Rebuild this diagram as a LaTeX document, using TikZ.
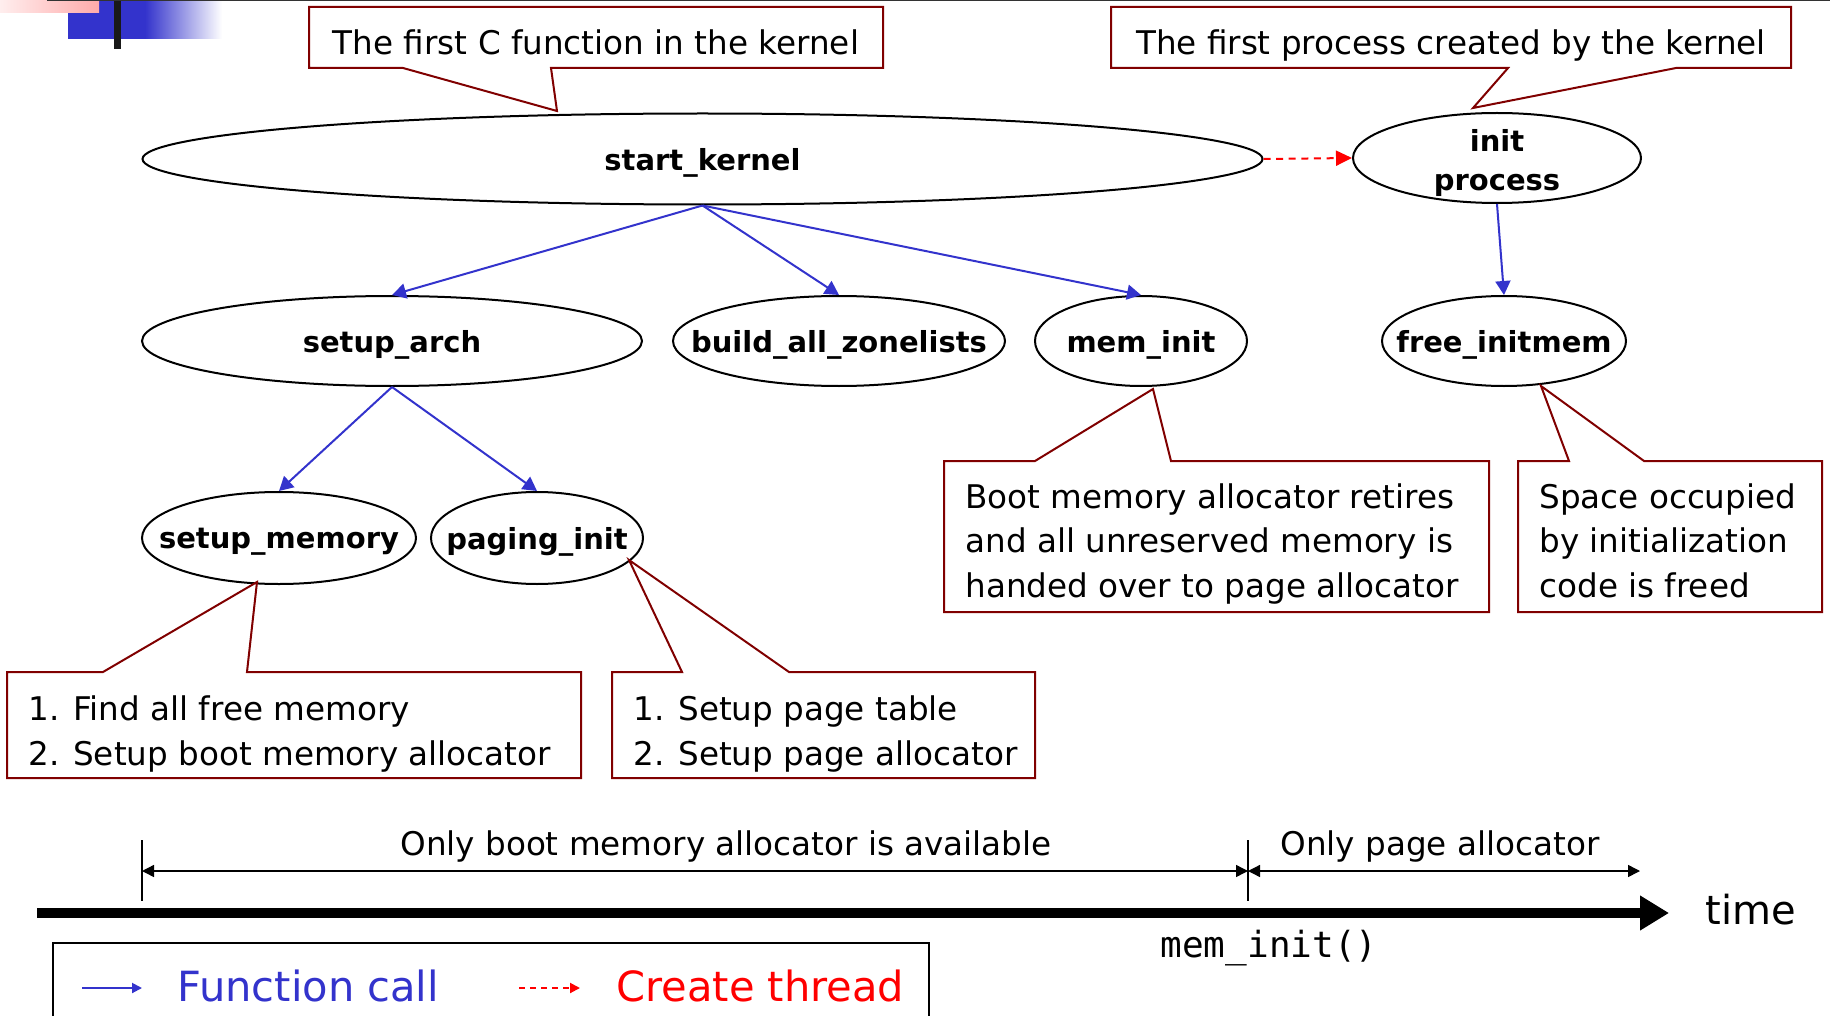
\documentclass[tikz,border=0pt]{standalone}
\usepackage{fontspec}
\setmainfont{DejaVu Sans}
\newfontfamily\codefont{DejaVu Sans Mono}
\usetikzlibrary{arrows.meta,shapes.geometric}
\definecolor{callblue}{RGB}{51,51,204}
\definecolor{notered}{RGB}{128,0,0}
\definecolor{threadred}{RGB}{255,0,0}
\definecolor{barpink}{RGB}{255,170,170}
% label text that does not widen the ellipse, set a little below centre
\newcommand\zerowidth[1]{\makebox[0pt]{\raisebox{-1.8pt}[\height][\depth]{#1}}}
% two-line label that takes no room at all
\newcommand\zerobox[1]{\makebox[0pt]{\raisebox{-6.3pt}[0pt][0pt]{#1}}}

\begin{document}
\begin{tikzpicture}[x=0.5pt,y=-0.5pt,
  fn/.style={ellipse, draw=black, line width=1pt, fill=white, inner sep=0pt,
    font=\bfseries\fontsize{14.5}{19.5}\selectfont},
  call/.style={draw=callblue, line width=1pt, -{Triangle[length=7pt,width=7.5pt]}},
  spawn/.style={draw=threadred, line width=1pt, dash pattern=on 3.5pt off 2.8pt,
    -{Triangle[length=8pt,width=7.5pt]}},
  note/.style={draw=notered, line width=1pt, fill=white, line join=miter},
  notetext/.style={inner sep=0pt, text depth=0pt, font=\fontsize{16.3}{22.3}\selectfont, align=left},
  plain/.style={inner sep=0pt, text depth=0pt, font=\fontsize{16.3}{20}\selectfont},
  dimline/.style={line width=0.7pt, {Triangle[length=6pt,width=6pt]}-{Triangle[length=6pt,width=6pt]}},
]
\useasboundingbox (0,0) rectangle (1830,1016);

% corner ornament
\fill[callblue] (68,0) rectangle (146,39);
\shade[left color=callblue, right color=white] (145,0) rectangle (222,39);
\shade[left color=barpink!20, right color=barpink] (0,0) rectangle (99,13);
\fill[black!90] (114,0) rectangle (121,49);
\draw[black!80, line width=0.75pt] (47,0.75) -- (1830,0.75);

% call graph
\node[fn, minimum width=560pt, minimum height=45.5pt] (sk) at (702.5,159) {\zerowidth{start\_kernel}};
\node[fn, minimum width=144pt, minimum height=45pt] (ip) at (1497,158) {\zerobox{\begin{tabular}{@{}c@{}}init\\process\end{tabular}}};
\node[fn, minimum width=250pt, minimum height=45pt] (sa) at (392,341) {\zerowidth{setup\_arch}};
\node[fn, minimum width=166pt, minimum height=45pt] (bz) at (839,341) {\zerowidth{build\_all\_zonelists}};
\node[fn, minimum width=106pt, minimum height=45pt] (mi) at (1141,341) {\zerowidth{mem\_init}};
\node[fn, minimum width=122pt, minimum height=45pt] (fi) at (1504,341) {\zerowidth{free\_initmem}};
\node[fn, minimum width=137pt, minimum height=46pt] (sm) at (279,538) {\zerowidth{setup\_memory}};
\node[fn, minimum width=106pt, minimum height=46pt] (pi) at (537,538) {\zerowidth{paging\_init}};

\draw[call] (sk.south) -- (sa.north);
\draw[call] (sk.south) -- (bz.north);
\draw[call] (sk.south) -- (mi.north);
\draw[call] (sa.south) -- (sm.north);
\draw[call] (sa.south) -- (pi.north);
\draw[call] (ip.south) -- (fi.north);
\draw[spawn] (sk.east) -- (ip.west);

% callouts
\draw[note] (309,7) -- (883,7) -- (883,68) -- (551,68) -- (557,111) -- (403,68) -- (309,68) -- cycle;
\node[plain] (c1) at (596,42) {The first C function in the kernel};

\draw[note] (1111,7) -- (1791,7) -- (1791,68) -- (1676,68) -- (1473,108) -- (1508,68) -- (1111,68) -- cycle;
\node[plain] (c2) at (1451,42) {The first process created by the kernel};

\draw[note] (7,672) -- (103,672) -- (257,582) -- (247,672) -- (581,672) -- (581,778) -- (7,778) -- cycle;
\node[notetext, anchor=west] (c3) at (28,730.5) {1. Find all free memory\\2. Setup boot memory allocator};

\draw[note] (612,672) -- (682,672) -- (629,560) -- (789,672) -- (1035,672) -- (1035,778) -- (612,778) -- cycle;
\node[notetext, anchor=west] (c4) at (633,730.5) {1. Setup page table\\2. Setup page allocator};

\draw[note] (944,461) -- (1035,461) -- (1153,389) -- (1171,461) -- (1489,461) -- (1489,612) -- (944,612) -- cycle;
\node[notetext, anchor=west] (c5) at (965,540.5) {Boot memory allocator retires\\and all unreserved memory is\\handed over to page allocator};

\draw[note] (1518,461) -- (1569,461) -- (1541,386) -- (1644,461) -- (1822,461) -- (1822,612) -- (1518,612) -- cycle;
\node[notetext, anchor=west] (c6) at (1539,540.5) {Space occupied\\by initialization\\code is freed};

% time line
\coordinate (tstart) at (37,913);
\coordinate (tend) at (1669,913);
\draw[line width=5pt, -{Triangle[length=14.5pt,width=16.5pt]}] (tstart) -- (tend);
\node[inner sep=0pt, font=\fontsize{20}{24}\selectfont] (tm) at (1751,910) {time};

\coordinate (boottop) at (142,840);
\coordinate (bootbot) at (142,901);
\coordinate (memtop) at (1248,840);
\coordinate (membot) at (1248,901);
\coordinate (boota) at (142,871);
\coordinate (memb) at (1248,871);
\coordinate (pagec) at (1640,871);
\draw[line width=0.6pt] (boottop) -- (bootbot);
\draw[line width=0.6pt] (memtop) -- (membot);
\draw[dimline] (boota) -- (memb);
\draw[dimline] (memb) -- (pagec);
\node[plain] (onlyboot) at (726,843) {Only boot memory allocator is available};
\node[plain] (onlypage) at (1440,843) {Only page allocator};
\node[inner sep=0pt, font=\codefont\fontsize{18}{20}\selectfont] (meminit) at (1269,948) {mem\_init()};

% legend
\draw[line width=0.75pt] (53,1020) -- (53,943) -- (929,943) -- (929,1020);
\coordinate (la) at (82,988);
\coordinate (lb) at (142,988);
\coordinate (lc) at (519,988);
\coordinate (ld) at (580,988);
\draw[draw=callblue, line width=1pt, -{Triangle[length=5pt,width=5pt]}] (la) -- (lb);
\draw[draw=threadred, line width=1pt, dash pattern=on 3pt off 2.5pt, -{Triangle[length=5pt,width=5pt]}] (lc) -- (ld);
\node[inner sep=0pt, anchor=west, text=callblue, font=\fontsize{20.8}{24}\selectfont] (lfc) at (177,986) {Function call};
\node[inner sep=0pt, anchor=west, text=threadred, font=\fontsize{20.8}{24}\selectfont] (lct) at (616,986) {Create thread};
\end{tikzpicture}
\end{document}
